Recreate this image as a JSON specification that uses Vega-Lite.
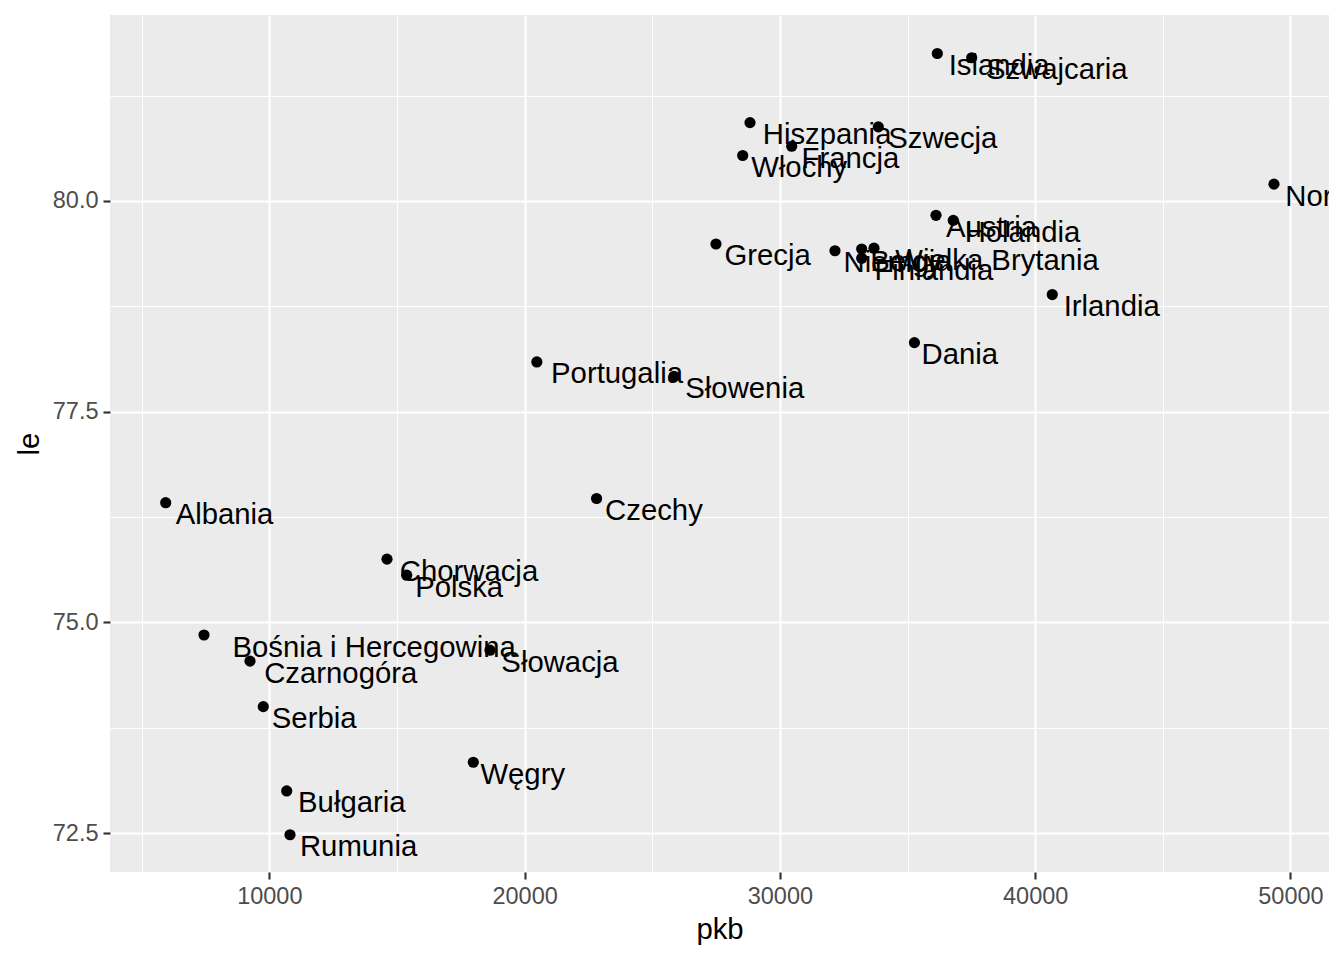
{
  "$schema": "https://vega.github.io/schema/vega-lite/v6.json",
  "width": 1219,
  "height": 857,
  "autosize": {"type": "none"},
  "padding": {"left": 110, "top": 15, "right": 15, "bottom": 88},
  "background": "white",
  "config": {
    "view": {"fill": "#EBEBEB", "stroke": null},
    "font": "Liberation Sans"
  },
  "data": {
    "values": [
      {"kraj": "Islandia", "pkb": 36166, "le": 81.75},
      {"kraj": "Szwajcaria", "pkb": 37513, "le": 81.70},
      {"kraj": "Hiszpania", "pkb": 28829, "le": 80.93},
      {"kraj": "Szwecja", "pkb": 33855, "le": 80.88},
      {"kraj": "Francja", "pkb": 30462, "le": 80.65},
      {"kraj": "Włochy", "pkb": 28543, "le": 80.54},
      {"kraj": "Norwegia", "pkb": 49354, "le": 80.20},
      {"kraj": "Austria", "pkb": 36115, "le": 79.83},
      {"kraj": "Holandia", "pkb": 36792, "le": 79.77},
      {"kraj": "Grecja", "pkb": 27497, "le": 79.49},
      {"kraj": "Niemcy", "pkb": 32158, "le": 79.41},
      {"kraj": "Belgia", "pkb": 33204, "le": 79.43},
      {"kraj": "Wielka Brytania", "pkb": 33686, "le": 79.44},
      {"kraj": "Finlandia", "pkb": 33204, "le": 79.32},
      {"kraj": "Irlandia", "pkb": 40670, "le": 78.89},
      {"kraj": "Dania", "pkb": 35270, "le": 78.32},
      {"kraj": "Portugalia", "pkb": 20480, "le": 78.09},
      {"kraj": "Słowenia", "pkb": 25850, "le": 77.92},
      {"kraj": "Czechy", "pkb": 22820, "le": 76.47},
      {"kraj": "Albania", "pkb": 5942, "le": 76.42},
      {"kraj": "Chorwacja", "pkb": 14610, "le": 75.75},
      {"kraj": "Polska", "pkb": 15382, "le": 75.56},
      {"kraj": "Bośnia i Hercegowina", "pkb": 7442, "le": 74.85},
      {"kraj": "Słowacja", "pkb": 18645, "le": 74.67},
      {"kraj": "Czarnogóra", "pkb": 9244, "le": 74.54},
      {"kraj": "Serbia", "pkb": 9765, "le": 74.00},
      {"kraj": "Węgry", "pkb": 17991, "le": 73.34},
      {"kraj": "Bułgaria", "pkb": 10682, "le": 73.00},
      {"kraj": "Rumunia", "pkb": 10811, "le": 72.48}
    ]
  },
  "layer": [
    {
      "mark": {"type": "circle", "color": "black", "size": 125, "opacity": 1},
      "encoding": {
        "x": {
          "field": "pkb", "type": "quantitative",
          "scale": {"domain": [3760, 51509], "nice": false, "zero": false},
          "axis": {"orient": "top", "values": [5000, 15000, 25000, 35000, 45000], "grid": true, "gridColor": "white", "gridWidth": 1.07, "labels": false, "ticks": false, "domain": false, "title": null}
        },
        "y": {
          "field": "le", "type": "quantitative",
          "scale": {"domain": [72.038, 82.207], "nice": false, "zero": false},
          "axis": {"orient": "right", "values": [73.75, 76.25, 78.75, 81.25], "grid": true, "gridColor": "white", "gridWidth": 1.07, "labels": false, "ticks": false, "domain": false, "title": null}
        }
      }
    },
    {
      "mark": {
        "type": "text", "align": "left", "baseline": "alphabetic",
        "dx": {"expr": "1.42 * length(datum.kraj)"},
        "dy": 21.5,
        "fontSize": 29.3, "font": "Liberation Sans", "color": "black", "clip": true
      },
      "encoding": {
        "x": {
          "field": "pkb", "type": "quantitative",
          "scale": {"domain": [3760, 51509], "nice": false, "zero": false},
          "axis": {"orient": "bottom", "values": [10000, 20000, 30000, 40000, 50000], "format": "d", "grid": true, "gridColor": "white", "gridWidth": 2.13, "domain": false, "tickColor": "#333333", "tickSize": 7, "tickWidth": 2.13, "labelColor": "#4D4D4D", "labelFontSize": 23.5, "labelPadding": 5, "labelFlush": false, "labelOverlap": false, "title": "pkb", "titleFontSize": 29.3, "titleFontWeight": "normal", "titleColor": "black", "titlePadding": 8}
        },
        "y": {
          "field": "le", "type": "quantitative",
          "scale": {"domain": [72.038, 82.207], "nice": false, "zero": false},
          "axis": {"orient": "left", "values": [72.5, 75, 77.5, 80], "format": ".1f", "grid": true, "gridColor": "white", "gridWidth": 2.13, "domain": false, "tickColor": "#333333", "tickSize": 7, "tickWidth": 2.13, "labelColor": "#4D4D4D", "labelFontSize": 23.5, "labelPadding": 5, "labelFlush": false, "labelOverlap": false, "title": "le", "titleFontSize": 29.3, "titleFontWeight": "normal", "titleColor": "black", "titlePadding": 8}
        },
        "text": {"field": "kraj", "type": "nominal"}
      }
    }
  ],
  "resolve": {"axis": {"x": "independent", "y": "independent"}}
}
